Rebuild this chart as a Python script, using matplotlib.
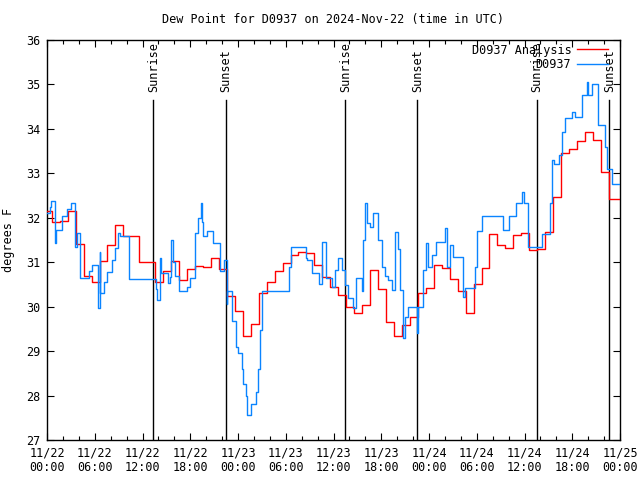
import numpy as np
import matplotlib
matplotlib.use("Agg")
import matplotlib.pyplot as plt

# ---- data ----
# Analysis (hourly, steps), value holds from hour-0.4 to hour+0.6
red_vals = [32.15, 31.9, 31.92, 32.15, 31.4, 30.68, 30.56, 31.02, 31.38, 31.84,
            31.6, 31.6, 31.0, 31.0, 30.55, 30.8, 31.03, 30.6, 30.85, 30.92,
            30.9, 31.09, 30.85, 30.24, 29.9, 29.33, 29.6, 30.3, 30.56, 30.8,
            30.99, 31.16, 31.24, 31.2, 30.94, 30.66, 30.45, 30.26, 30.0, 29.85,
            30.04, 30.82, 30.39, 29.66, 29.35, 29.59, 29.77, 30.3, 30.42, 30.94,
            30.88, 30.63, 30.35, 29.85, 30.52, 30.88, 31.63, 31.38, 31.33, 31.61,
            31.65, 31.27, 31.3, 31.69, 32.47, 33.45, 33.54, 33.73, 33.94, 33.75,
            33.02, 32.42, 32.42]
red_hours = np.clip(np.arange(len(red_vals)) - 0.4, 0, None)

# Observations (hours since 11/22 00:00 UTC, value)
blue_hours = [0.00, 0.38, 0.54, 0.97, 1.07, 1.92, 2.55, 2.98, 3.48, 3.73,
              4.11, 5.28, 5.69, 6.45, 6.62, 6.70, 7.16, 7.58, 8.21, 8.51,
              8.92, 9.17, 10.30, 13.70, 13.86, 14.20, 14.36, 15.24, 15.46, 15.54,
              15.80, 16.08, 16.62, 17.55, 17.97, 18.60, 19.01, 19.35, 19.48, 19.64,
              20.07, 20.90, 21.74, 22.24, 22.58, 22.66, 23.21, 23.75, 24.04, 24.47,
              24.59, 25.01, 25.17, 25.63, 26.26, 26.55, 26.77, 27.06, 30.41, 30.62,
              32.55, 32.71, 33.26, 34.18, 34.59, 35.06, 35.78, 36.19, 36.60, 37.03,
              37.45, 37.86, 38.49, 38.83, 39.55, 39.67, 39.96, 40.25, 40.59, 41.00,
              41.63, 42.06, 42.47, 42.89, 43.32, 43.73, 44.14, 44.36, 44.70, 44.99,
              45.40, 46.46, 46.66, 47.29, 47.63, 47.91, 48.34, 48.88, 50.01, 50.30,
              50.64, 51.06, 52.24, 52.53, 53.78, 54.07, 54.62, 57.26, 58.09, 58.94,
              59.65, 59.94, 60.48, 62.16, 63.21, 63.42, 63.71, 64.38, 64.68, 65.09,
              65.93, 66.35, 67.19, 67.86, 67.98, 68.45, 69.28, 70.12, 70.41, 70.96,
              72.00]
blue_vals = [32.1, 32.25, 32.38, 31.43, 31.72, 32.04, 32.19, 32.33, 31.35, 31.65,
             30.64, 30.8, 30.94, 29.96, 31.22, 30.3, 30.56, 30.79, 31.06, 31.31,
             31.65, 31.6, 30.62, 30.4, 30.16, 31.1, 30.75, 30.53, 30.66, 31.5,
             31.0, 30.7, 30.35, 30.45, 30.64, 31.65, 32.0, 32.33, 31.9, 31.6,
             31.7, 31.43, 30.8, 31.05, 30.07, 30.35, 29.68, 29.1, 28.95, 28.6,
             28.26, 28.0, 27.57, 27.82, 28.09, 28.59, 29.47, 30.35, 30.9, 31.35,
             31.09, 31.05, 30.76, 30.51, 31.46, 30.64, 30.45, 30.82, 31.09, 30.82,
             30.49, 30.19, 29.96, 30.64, 30.35, 31.5, 32.33, 31.88, 31.8, 32.1,
             31.5, 30.9, 30.7, 30.6, 30.37, 31.69, 31.3, 30.37, 29.29, 29.77,
             30.0, 29.4, 30.0, 30.82, 31.43, 30.9, 31.16, 31.46, 31.78, 30.9,
             31.39, 31.11, 30.22, 30.43, 30.9, 31.71, 32.04, 31.73, 32.04, 32.33,
             32.59, 32.33, 31.35, 31.63, 32.33, 33.3, 33.2, 33.41, 33.94, 34.24,
             34.39, 34.27, 34.76, 35.05, 34.76, 35.02, 34.09, 33.6, 33.09, 32.77,
             32.77]

sun_hours = [13.36, 22.50, 37.49, 46.54, 61.60, 70.66]
sun_labels = ["Sunrise", "Sunset", "Sunrise", "Sunset", "Sunrise", "Sunset"]

xtick_hours = [0, 6, 12, 18, 24, 30, 36, 42, 48, 54, 60, 66, 72]
xtick_labels = ["11/22\n00:00", "11/22\n06:00", "11/22\n12:00", "11/22\n18:00",
                "11/23\n00:00", "11/23\n06:00", "11/23\n12:00", "11/23\n18:00",
                "11/24\n00:00", "11/24\n06:00", "11/24\n12:00", "11/24\n18:00",
                "11/25\n00:00"]
yticks = [27, 28, 29, 30, 31, 32, 33, 34, 35, 36]

# ---- plot ----
plt.rcParams['font.family'] = ['DejaVu Sans Mono']
FS = 8.5
fig = plt.figure(figsize=(6.4, 4.8), dpi=100)
ax = fig.add_axes([47/640, 40/480, 573/640, 400/480])

red_x = list(red_hours) + [72]
red_y = list(red_vals) + [red_vals[-1]]
ax.plot(red_x, red_y, drawstyle='steps-post', color='#ff0000', lw=1.0,
        label='D0937 Analysis', zorder=3)
ax.plot(blue_hours, blue_vals, drawstyle='steps-post', color='#0a84ff', lw=1.0,
        label='D0937', zorder=4)

for h, lab in zip(sun_hours, sun_labels):
    ax.plot([h, h], [27, 34.66], color='black', lw=1.0, zorder=2)
    ax.text(h, 34.82, lab, rotation=90, ha='center', va='bottom', fontsize=FS)

ax.set_xlim(0, 72)
ax.set_ylim(27, 36)
ax.set_xticks(xtick_hours)
ax.set_xticklabels(xtick_labels, fontsize=FS, linespacing=1.15)
ax.set_xticks(np.arange(0, 73, 2), minor=True)
ax.set_yticks(yticks)
ax.set_yticklabels([str(v) for v in yticks], fontsize=FS)
ax.tick_params(which='both', direction='in', top=True, right=True, width=0.8,
               color='black')
ax.tick_params(which='major', length=5, pad=5)
ax.tick_params(which='minor', length=3)
for s in ax.spines.values():
    s.set_linewidth(1.0)
    s.set_color('black')

ax.set_ylabel('degrees F', fontsize=FS, labelpad=8)
fig.text(333/640, 1 - 20/480, 'Dew Point for D0937 on 2024-Nov-22 (time in UTC)',
         ha='center', va='center', fontsize=FS)

leg = ax.legend(loc='upper right', bbox_to_anchor=(0.985, 1.0), frameon=False,
                markerfirst=False, fontsize=FS, handlelength=2.6,
                handletextpad=0.5, labelspacing=0.15, borderaxespad=0.1,
                borderpad=0.2)
for t in leg.get_texts():
    t.set_ha('right')

fig.savefig('out.png', dpi=100)
